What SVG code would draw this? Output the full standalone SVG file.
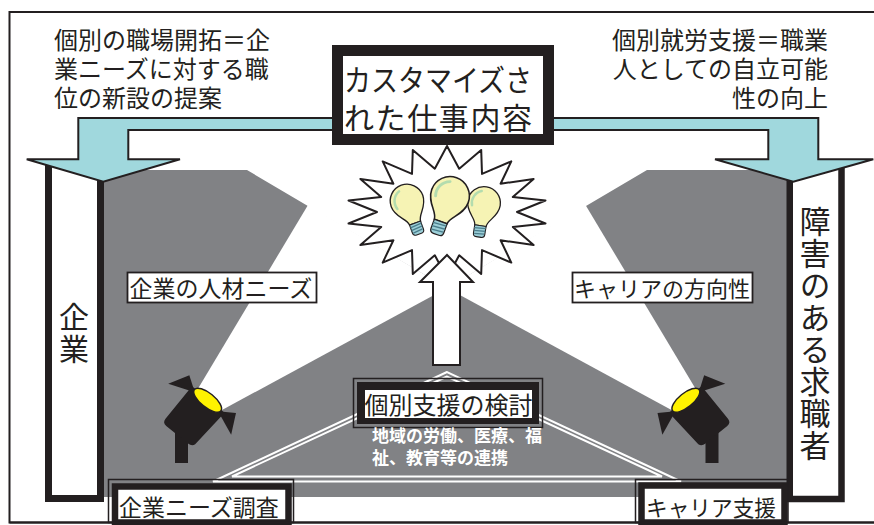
<svg xmlns="http://www.w3.org/2000/svg" width="874" height="525" viewBox="0 0 874 525">
  <defs>
    <style>
      text { font-family: 'Noto Sans CJK JP', 'Noto Sans CJK SC', sans-serif; fill: #231f20; }
      .frame { fill: none; stroke: #231f20; stroke-width: 2; }
      .stage { fill: #818285; }
      .beam { fill: #ffffff; }
      .wline { fill: none; stroke: #ffffff; stroke-width: 2; stroke-linejoin: miter; }
      .flow { fill: #a0d8dd; stroke: #231f20; stroke-width: 2; stroke-linejoin: miter; }
      .up { fill: #ffffff; stroke: #231f20; stroke-width: 2; }
      .col { fill: #ffffff; stroke: #231f20; stroke-width: 7; }
      .tag { fill: #ffffff; stroke: #231f20; stroke-width: 1.8; }
      .thin { fill: none; stroke: #231f20; stroke-width: 1.5; }
      .thick { fill: #ffffff; stroke: #231f20; stroke-width: 6.5; }
      .ink { fill: #231f20; }
      .note { font-size: 24px; }
      .lbl { font-size: 23px; }
      .vert { writing-mode: vertical-rl; }
      .sub { font-size: 17px; font-weight: bold; fill: #ffffff; }
    </style>
    <!-- light bulb, glass centre at origin -->
    <g id="bulb">
      <path d="M-7,28 C-7,20 -20,14 -20,0 A20,20 0 1 1 20,0 C20,14 7,20 7,28 Z" fill="#f6f3b4" stroke="#231f20" stroke-width="1.6"/>
      <path d="M-14,5 A15,15 0 0 1 -5,-14" fill="none" stroke="#b3dcae" stroke-width="3" stroke-linecap="round"/>
      <path d="M-7,28 H7 V38 Q7,42 3,42 H-3 Q-7,42 -7,38 Z" fill="#9ccfd8" stroke="#231f20" stroke-width="1.3"/>
      <path d="M-7,31.5 L7,30.5 M-7,35 L7,34 M-6,38.5 L6,37.5" stroke="#4a7d8b" stroke-width="1.5"/>
    </g>
  </defs>

  <!-- outer frame -->
  <path class="frame" d="M874,12 H9.5 V522.5 H874"/>

  <!-- stage background with light beams -->
  <g id="stage">
    <polygon class="stage" points="104,170 247,170 447,288 647,170 787,170 787,497 104,497"/>
    <polygon class="beam" points="196,392 308,205 447,288 222,410"/>
    <polygon class="beam" points="697.5,392 585.5,205 447,288 671.5,410"/>
    <polygon class="wline" points="447,372 213,481.5 681,481.5"/>
    <polygon class="wline" points="447,376.5 232,476.5 662,476.5"/>
  </g>

  <!-- spotlights -->
  <g id="spot-left">
    <rect class="ink" x="175" y="428" width="13" height="35"/>
    <g transform="translate(207 401) rotate(39)">
      <path class="ink" d="M-15,1 L-30,-9 L-41,11 Z"/>
      <path class="ink" d="M15,1 L30,-9 L40,11 Z"/>
      <path class="ink" d="M-21,-2 H21 L18,41 Q17,45 12,45 H-16 Q-21,45 -21,40 Z"/>
      <ellipse cx="0" cy="-1" rx="17" ry="7" fill="#fff200" stroke="#231f20" stroke-width="1.5"/>
    </g>
  </g>
  <use id="spot-right" href="#spot-left" transform="translate(893.5 0) scale(-1 1)"/>

  <!-- side columns -->
  <g id="company">
    <path class="col" d="M48.5,160 V498.5 H100.5 V160"/>
    <text class="vert" x="74" y="302" font-size="30" letter-spacing="2">企業</text>
  </g>
  <g id="jobseeker">
    <path class="col" style="stroke-width:6.5" d="M789.75,160 V499 H841.5 V160"/>
    <text class="vert" x="815" y="206" font-size="31" letter-spacing="1">障害のある求職者</text>
  </g>

  <!-- idea burst -->
  <g id="ideas">
    <polygon points="447,146 459.2,168.7 481.2,150 482,173.9 511.3,161.4 500.6,183.7 533.6,179 512.8,197 545.5,200.5 517,212 545.5,223.5 512.8,227 533.6,245 500.6,240.3 511.3,262.6 482,250.1 481.2,274 459.2,255.3 447,278 434.8,255.3 412.8,274 412,250.1 382.7,262.6 393.4,240.3 360.4,245 381.2,227 348.5,223.5 377,212 348.5,200.5 381.2,197 360.4,179 393.4,183.7 382.7,161.4 412,173.9 412.8,150 434.8,168.7" fill="#ffffff" stroke="#231f20" stroke-width="2" stroke-linejoin="round"/>
    <use href="#bulb" transform="translate(484 203) rotate(9) scale(0.82)"/>
    <use href="#bulb" transform="translate(407 201) rotate(-20) scale(0.84)"/>
    <use href="#bulb" transform="translate(450 196) rotate(20) scale(0.97)"/>
  </g>

  <!-- connectors -->
  <g id="connectors">
    <path class="flow" d="M340,118 H78.3 V159.3 H26.7 L103.3,181.7 L180,159.3 H128.3 V130 H340 Z"/>
    <path class="flow" d="M540,118 H818.3 V159.3 H873.3 L793.3,181.7 L715,159.3 H768.3 V130 H540 Z"/>
    <polygon class="up" points="447,255 473,282 460,282 460,365 433,365 433,282 420,282"/>
  </g>

  <!-- customised work -->
  <g id="custom-work">
    <rect x="337.5" y="50.5" width="211" height="89" fill="#ffffff" stroke="#231f20" stroke-width="11"/>
    <text x="344" y="91" font-size="30" textLength="188" lengthAdjust="spacingAndGlyphs">カスタマイズさ</text>
    <text x="344" y="128.5" font-size="30" textLength="188" lengthAdjust="spacing">れた仕事内容</text>
  </g>

  <!-- individual support review -->
  <g id="review">
    <rect class="thin" x="353.5" y="378.5" width="189" height="49"/>
    <rect class="ink" x="357" y="382" width="182" height="42"/>
    <rect x="365" y="390" width="167" height="28" fill="#ffffff"/>
    <text x="364.5" y="413.5" font-size="24">個別支援の検討</text>
    <text class="sub"><tspan x="372" y="441.5">地域の労働、医療、福</tspan><tspan x="372" y="463.5">祉、教育等の連携</tspan></text>
  </g>

  <!-- beam labels -->
  <g id="needs">
    <rect class="tag" x="127.5" y="272.5" width="189" height="30"/>
    <text class="lbl" x="129.5" y="296.5">企業の人材ニーズ</text>
  </g>
  <g id="direction">
    <rect class="tag" x="572.5" y="272.5" width="180" height="30"/>
    <text x="574" y="296.5" font-size="22" textLength="176" lengthAdjust="spacingAndGlyphs">キャリアの方向性</text>
  </g>

  <!-- bottom boxes -->
  <g id="survey">
    <rect class="thin" x="108.5" y="479.5" width="185" height="43"/>
    <rect class="thick" x="115" y="486.5" width="173.5" height="36"/>
    <text class="lbl" x="119" y="516">企業ニーズ調査</text>
  </g>
  <g id="career">
    <rect class="thin" x="635.5" y="479.5" width="152.5" height="43"/>
    <rect class="thick" x="641.5" y="485.5" width="143" height="37"/>
    <text x="646" y="516" font-size="22" textLength="130" lengthAdjust="spacingAndGlyphs">キャリア支援</text>
  </g>

  <!-- headline notes -->
  <g id="note-left">
    <text class="note"><tspan x="54" y="48.5">個別の職場開拓＝企</tspan><tspan x="54" y="77.5">業ニーズに対する職</tspan><tspan x="54" y="106.5">位の新設の提案</tspan></text>
  </g>
  <g id="note-right">
    <text class="note" text-anchor="end"><tspan x="828" y="48.5">個別就労支援＝職業</tspan><tspan x="828" y="77.5">人としての自立可能</tspan><tspan x="828" y="106.5">性の向上</tspan></text>
  </g>

  <!-- frame bottom drawn over box edges -->
  <path class="frame" d="M9.5,522.5 H874"/>
</svg>
